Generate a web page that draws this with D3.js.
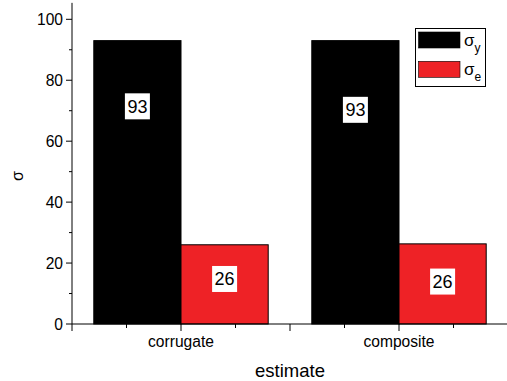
<!DOCTYPE html>
<html><head><meta charset="utf-8">
<script src="https://cdn.jsdelivr.net/npm/d3@7"></script>
<style>body{margin:0;background:#fff}svg{display:block;font-family:"Liberation Sans",Arial,sans-serif}</style>
</head><body>
<svg id="c" width="507" height="381"></svg>
<script>
const categories = ["corrugate", "composite"];
const sigmaY = [93, 93];
const sigmaE = [26, 26.3];
const yTicks = [0, 20, 40, 60, 80, 100];
const xLabel = "estimate";
const yLabel = "σ";

const svg = d3.select("#c");
const x = d3.scaleLinear().domain([0.5, 2.5]).range([72, 508]);
const y = d3.scaleLinear().domain([0, 100]).range([324, 19.3]);
const barW = 0.4;
const catShift = [0, 3.5];

const series = [
  {vals: sigmaY, color: "#000000", off: -barW, lab: 65.7, sub: "y"},
  {vals: sigmaE, color: "#ee2226", off: 0, lab: 34.2, sub: "e"}
];

series.forEach(s => {
  const g = svg.append("g");
  g.selectAll("rect").data(s.vals).join("rect")
    .attr("x", (d, i) => x(i + 1 + s.off))
    .attr("width", x(1 + barW) - x(1))
    .attr("y", d => y(d))
    .attr("height", d => y(0) - y(d))
    .attr("fill", s.color).attr("stroke", "#000").attr("stroke-width", 1);
  const lg = g.selectAll("g.lab").data(s.vals).join("g").attr("class", "lab")
    .attr("transform", (d, i) => `translate(${x(i + 1 + s.off + barW / 2)},${y(d) + s.lab + catShift[i]})`);
  lg.append("rect").attr("x", -12.5).attr("y", -13).attr("width", 25).attr("height", 26).attr("fill", "#fff");
  lg.append("text").attr("text-anchor", "middle").attr("dy", "0.36em").attr("font-size", 18)
    .text(d => Math.round(d));
});

// y axis
const yAxis = svg.append("g").attr("transform", "translate(72,0)");
yAxis.append("line").attr("x1", 0).attr("x2", 0).attr("y1", y(105.4)).attr("y2", y(0)).attr("stroke", "#000");
yAxis.selectAll("line.maj").data(yTicks).join("line").attr("class", "maj")
  .attr("x1", -6).attr("x2", 0).attr("y1", d => y(d)).attr("y2", d => y(d)).attr("stroke", "#000");
yAxis.selectAll("line.min").data(yTicks.slice(0, -1).map(d => d + 10)).join("line").attr("class", "min")
  .attr("x1", -3).attr("x2", 0).attr("y1", d => y(d)).attr("y2", d => y(d)).attr("stroke", "#000");
yAxis.selectAll("text").data(yTicks).join("text")
  .attr("x", -9).attr("y", d => y(d)).attr("dy", "0.36em").attr("text-anchor", "end")
  .attr("font-size", 15.6).text(d => d);

// x axis
const xAxis = svg.append("g").attr("transform", `translate(0,${y(0)})`);
xAxis.append("line").attr("x1", x(0.5)).attr("x2", x(2.5)).attr("y1", 0).attr("y2", 0).attr("stroke", "#000");
const xMaj = [0.5, 1, 1.5, 2, 2.5];
const xMin = [0.75, 1.25, 1.75, 2.25];
xAxis.selectAll("line.maj").data(xMaj).join("line").attr("class", "maj")
  .attr("x1", d => x(d)).attr("x2", d => x(d)).attr("y1", 0).attr("y2", 7).attr("stroke", "#000");
xAxis.selectAll("line.min").data(xMin).join("line").attr("class", "min")
  .attr("x1", d => x(d)).attr("x2", d => x(d)).attr("y1", 0).attr("y2", 4).attr("stroke", "#000");
xAxis.selectAll("text").data(categories).join("text")
  .attr("x", (d, i) => x(i + 1)).attr("y", 23).attr("text-anchor", "middle")
  .attr("font-size", 15.6).text(d => d);

svg.append("text").attr("x", x(1.5)).attr("y", 377).attr("text-anchor", "middle")
  .attr("font-size", 18.5).text(xLabel);
svg.append("text").attr("transform", "translate(23,176) rotate(-90)").attr("text-anchor", "middle")
  .attr("font-size", 16).text(yLabel);

// legend
const leg = svg.append("g");
leg.append("rect").attr("x", 415.5).attr("y", 28.5).attr("width", 70).attr("height", 58)
  .attr("fill", "#fff").attr("stroke", "#000");
series.forEach((s, i) => {
  const yy = 32 + i * 29.3;
  leg.append("rect").attr("x", 418.5).attr("y", yy).attr("width", 41.5).attr("height", 16)
    .attr("fill", s.color).attr("stroke", "#000").attr("stroke-width", 0.6);
  const t = leg.append("text").attr("x", 464).attr("y", yy + 14).attr("font-size", 17).text("σ");
  t.append("tspan").attr("font-size", 12).attr("dy", 6).text(s.sub);
});
</script>
</body></html>
